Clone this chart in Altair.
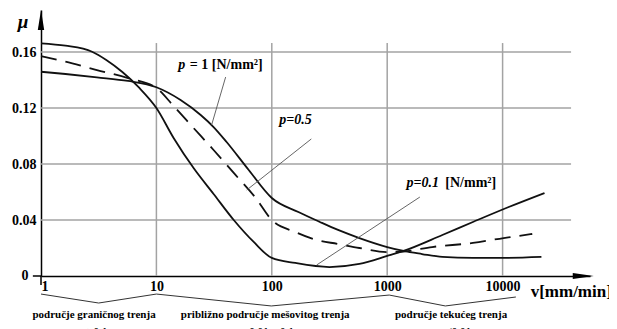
import altair as alt
import pandas as pd

# ---- curve values (v in mm/min, mu) ----
v_p01 = [1, 1.63, 2.77, 3.68, 5.07, 7.12, 10, 14.1, 21.0, 31.3, 46.8, 69.7, 100, 160, 316, 574, 1000, 1386, 3006, 5530, 11300, 23070]
mu_p01 = [0.1662, 0.1645, 0.1602, 0.1543, 0.1457, 0.1343, 0.120, 0.0986, 0.0771, 0.0586, 0.040, 0.0243, 0.0129, 0.0093, 0.0064, 0.0086, 0.0143, 0.0179, 0.0293, 0.0386, 0.0493, 0.0593]

v_p1 = [1, 1.63, 3.05, 5.68, 10, 16.2, 24.2, 31.3, 40.6, 63.1, 100, 170, 261, 375, 574, 1000, 1386, 2000, 3006, 5530, 10200, 21700]
mu_p1 = [0.1459, 0.1443, 0.1419, 0.1393, 0.1348, 0.1257, 0.115, 0.1064, 0.0957, 0.0757, 0.0557, 0.0457, 0.0386, 0.0329, 0.0271, 0.0207, 0.0179, 0.0157, 0.0136, 0.0129, 0.0129, 0.0136]

v_p05 = [1, 1.63, 3.05, 5.68, 10, 14.1, 21.0, 31.3, 46.8, 72.6, 100, 160, 245, 375, 574, 1000, 1386, 2450, 5530, 10200, 18070]
mu_p05 = [0.1571, 0.1531, 0.1471, 0.1414, 0.1343, 0.1214, 0.1057, 0.090, 0.0736, 0.0557, 0.040, 0.0314, 0.0257, 0.0229, 0.020, 0.0171, 0.0175, 0.0207, 0.0236, 0.0271, 0.030]

# ---- axes / grid ----
x_ticks = [1, 10, 100, 1000, 10000]
y_ticks = [0.04, 0.08, 0.12, 0.16]
h_grid = [0.04, 0.08, 0.12, 0.16]
h_grid_end = 39200
v_grid = [10, 100, 1000, 10000]
v_grid_top = 0.1664

# ---- annotations ----
italic_text = ["p", "p=0.5", "p=0.1"]
italic_v = [15.5, 116, 1472]
italic_mu = [0.1507, 0.1114, 0.0664]

bold_text = ["= 1 [N/mm²]", "[N/mm²]"]
bold_v = [19.5, 3190]
bold_mu = [0.1507, 0.0664]

ptr_v1 = [39.8, 220, 1919]
ptr_mu1 = [0.1421, 0.0979, 0.0564]
ptr_v2 = [30.1, 60.6, 245]
ptr_mu2 = [0.1079, 0.0614, 0.0079]

region_text = ["područje graničnog trenja", "približno područje mešovitog trenja", "područje tekućeg trenja",
               "μ>0.1", "μ=0.01 ÷ 0.1", "μtr≤0.01"]
region_v = [2.88, 87.7, 3573, 2.88, 87.7, 3573]
region_mu = [-0.0279, -0.0279, -0.0279, -0.0400, -0.0400, -0.0400]

brace_id = [1, 1, 1, 2, 2, 2, 3, 3, 3]
brace_v = [1, 3.16, 10, 10, 99, 1041, 1041, 3190, 13030]
brace_mu = [-0.0129, -0.0193, -0.0129, -0.0129, -0.0214, -0.0136, -0.0136, -0.0214, -0.015]

XDOM = [1, 57200]
YDOM = [0, 0.19]
FONT = "Liberation Serif, Times New Roman, serif"

XAXIS = alt.Axis(values=x_ticks, format="d", grid=False, ticks=False, domainColor="black",
                 domainWidth=1.5, labelFont=FONT, labelFontWeight="bold", labelFontSize=14,
                 labelColor="black", labelPadding=3, labelFlush=True, title=None)
YAXIS = alt.Axis(values=y_ticks, format=".2~f", grid=False, ticks=False, domainColor="black",
                 domainWidth=1.5, labelFont=FONT, labelFontWeight="bold", labelFontSize=14,
                 labelColor="black", labelPadding=5, title=None)


def X(f="v"):
    return alt.X(f"{f}:Q", scale=alt.Scale(type="log", domain=XDOM, nice=False), axis=XAXIS)


def Y(f="mu"):
    return alt.Y(f"{f}:Q", scale=alt.Scale(domain=YDOM, nice=False, zero=False), axis=YAXIS)


curves = pd.DataFrame(
    {"v": v_p01 + v_p1, "mu": mu_p01 + mu_p1,
     "p": ["0.1"] * len(v_p01) + ["1"] * len(v_p1)}
)
dashed = pd.DataFrame({"v": v_p05, "mu": mu_p05})

hg = alt.Chart(pd.DataFrame({"mu": h_grid, "a": [1] * 4, "b": [h_grid_end] * 4})).mark_rule(
    color="#a3a3a3", strokeWidth=1.5).encode(x=X("a"), x2="b:Q", y=Y("mu"))
vg = alt.Chart(pd.DataFrame({"v": v_grid, "a": [0] * 4, "b": [v_grid_top] * 4})).mark_rule(
    color="#a3a3a3", strokeWidth=1.5).encode(x=X("v"), y=Y("a"), y2="b:Q")

solid = alt.Chart(curves).mark_line(color="#111", strokeWidth=1.8, interpolate="monotone").encode(
    x=X("v"), y=Y("mu"), detail="p:N")
dash = alt.Chart(dashed).mark_line(color="#111", strokeWidth=1.8, interpolate="monotone",
                                   strokeDash=[16, 9]).encode(x=X("v"), y=Y("mu"))

# extra axis stubs
stubs = alt.Chart(pd.DataFrame({"v": [0.85, 1], "v2": [1, 1], "mu": [0, 0], "mu2": [0, -0.0064]})).mark_rule(
    color="black", strokeWidth=1.5).encode(x=X("v"), x2="v2:Q", y=Y("mu"), y2="mu2:Q")

# arrow heads
yarrow = alt.Chart(pd.DataFrame({"v": [1], "mu": [0.1829]})).mark_point(
    shape="M0,-1L0.32,1L-0.32,1Z", size=400, filled=True, color="black", opacity=1).encode(
    x=X("v"), y=Y("mu"))
xarrow = alt.Chart(pd.DataFrame({"v": [50000], "mu": [0]})).mark_point(
    shape="M1,0L-1,-0.28L-1,0.28Z", size=441, filled=True, color="black", opacity=1).encode(
    x=X("v"), y=Y("mu"))

pointers = alt.Chart(pd.DataFrame({"v": ptr_v1, "mu": ptr_mu1, "v2": ptr_v2, "mu2": ptr_mu2})).mark_rule(
    color="#555", strokeWidth=0.9).encode(x=X("v"), y=Y("mu"), x2="v2:Q", y2="mu2:Q")

it = alt.Chart(pd.DataFrame({"v": italic_v, "mu": italic_mu, "t": italic_text})).mark_text(
    font=FONT, fontSize=14, fontWeight="bold", fontStyle="italic", align="left", baseline="middle",
    color="black").encode(x=X("v"), y=Y("mu"), text="t:N")
bd = alt.Chart(pd.DataFrame({"v": bold_v, "mu": bold_mu, "t": bold_text})).mark_text(
    font=FONT, fontSize=14, fontWeight="bold", align="left", baseline="middle",
    color="black").encode(x=X("v"), y=Y("mu"), text="t:N")

zero_lbl = alt.Chart(pd.DataFrame({"v": [0.727], "mu": [0.0], "t": ["0"]})).mark_text(
    font=FONT, fontSize=14, fontWeight="bold", align="center", baseline="middle",
    color="black").encode(x=X("v"), y=Y("mu"), text="t:N")

braces = alt.Chart(pd.DataFrame({"v": brace_v, "mu": brace_mu, "g": brace_id,
                                 "o": list(range(len(brace_v)))})).mark_line(
    color="#333", strokeWidth=1).encode(x=X("v"), y=Y("mu"), detail="g:N", order="o:Q")

regions = alt.Chart(pd.DataFrame({"v": region_v, "mu": region_mu, "t": region_text})).mark_text(
    font=FONT, fontSize=11, fontWeight="bold", align="center", baseline="middle",
    color="black").encode(x=X("v"), y=Y("mu"), text="t:N")

vlabel = alt.Chart(pd.DataFrame({"v": [17500], "mu": [-0.0114], "t": ["v[mm/min]"]})).mark_text(
    font=FONT, fontSize=17, fontWeight="bold", align="left", baseline="middle",
    color="black").encode(x=X("v"), y=Y("mu"), text="t:N")
mulabel = alt.Chart(pd.DataFrame({"v": [0.70], "mu": [0.1814], "t": ["μ"]})).mark_text(
    font=FONT, fontSize=19, fontWeight="bold", fontStyle="italic", align="center", baseline="middle",
    color="black").encode(x=X("v"), y=Y("mu"), text="t:N")

chart = alt.layer(hg, vg, solid, dash, stubs, yarrow, xarrow, pointers, it, bd, zero_lbl, braces,
                  regions, vlabel, mulabel).properties(
    width=549, height=266,
    autosize=alt.AutoSizeParams(type="none"),
    padding={"left": 33, "top": 2, "right": 19, "bottom": 55},
).configure_view(stroke=None)

chart.save("out.html", embed_options={"renderer": "svg", "actions": False})
